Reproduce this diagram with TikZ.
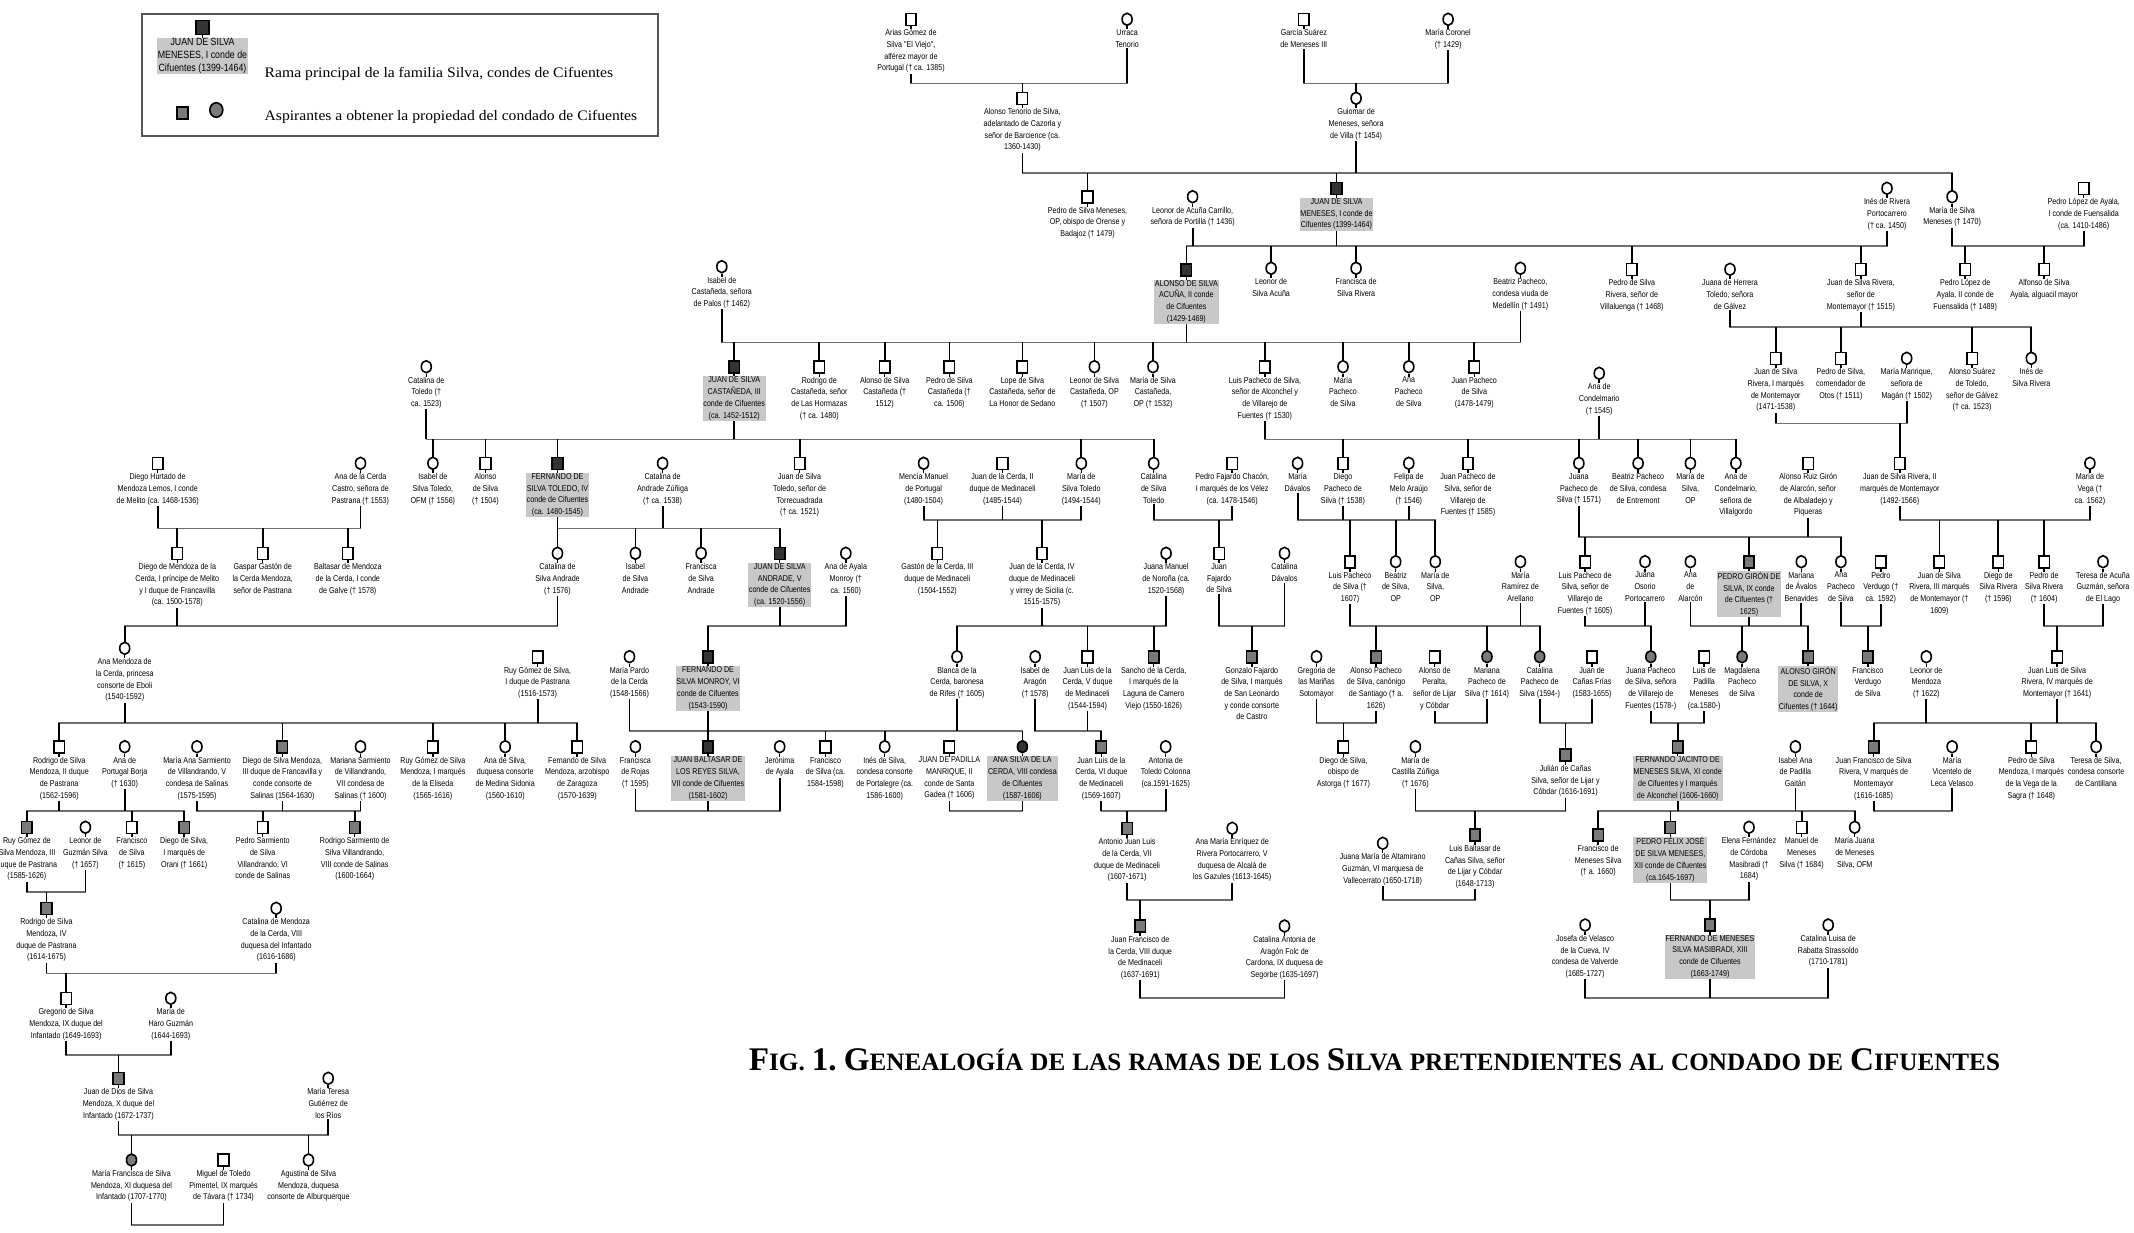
\documentclass[tikz,border=0pt]{standalone}
\usepackage{fontspec}
\setmainfont{Liberation Serif}
\newfontfamily\nar[FakeStretch=0.84]{Liberation Sans}
\usetikzlibrary{shapes.geometric}
\definecolor{cmain}{HTML}{333333}
\definecolor{casp}{HTML}{7A7A7A}
\definecolor{clab}{HTML}{C8C8C8}
\definecolor{chl}{HTML}{6E6E6E}
\definecolor{cbox}{HTML}{555555}
\tikzset{
 psq/.style={rectangle, draw=black, line width=1.6pt, fill=white, minimum width=10.5pt, minimum height=12pt, inner sep=0pt},
 pci/.style={ellipse, draw=black, line width=1.6pt, fill=white, minimum width=10pt, minimum height=12pt, inner sep=0pt},
 pmsq/.style={psq, fill=cmain},
 pasq/.style={psq, fill=casp},
 pmci/.style={pci, fill=cmain},
 paci/.style={pci, fill=casp},
 txt/.style={align=center, inner sep=0.8pt, font=\nar\fontsize{8.5}{11.7}\selectfont},
 mtxt/.style={txt, fill=clab},
 vl/.style={line width=1.8pt, black},
 hl/.style={line width=1.6pt, chl, line cap=rect},
}
\newcommand\psn[6]{%
 \node[#2] (#1) at (#4,#5) {};
 \draw[vl, line width=1.5pt] (#1.south) -- ++(0,3);
 \node[#3, anchor=north] (#1t) at ([yshift=-2.5pt]#1.south) {#6};
}
\newcommand\famly[5]{%
 \draw[hl] (#2 |- 0,#1) -- (#3 |- 0,#1);
 \foreach \q in {#4}{\draw[vl] (\q t.south) -- (\q t.south |- 0,#1);}
 \if\relax\detokenize{#5}\relax\else
  \foreach \q in {#5}{\draw[vl] (\q.north) -- (\q.north |- 0,#1);}
 \fi
}
\newcommand\TL[1]{{\fontsize{33}{36}\selectfont #1}}
\newcommand\TS[1]{{\fontsize{25}{30}\selectfont #1}}
\newcommand\TSP{\hspace{7pt}}
\begin{document}
\begin{tikzpicture}[x=1pt,y=-1pt]
\fill[white] (0,0) rectangle (2134,1232);
\useasboundingbox (0,0) rectangle (2134,1232);

% ---------- legend ----------
\draw[cbox, line width=1.2pt] (142,14) rectangle (658,136);
\node[psq, fill=cmain, minimum width=13pt, minimum height=14pt] (lgm) at (202.5,27.3) {};
\draw[vl, line width=1.5pt] (lgm.south) -- ++(0,3);
\node[txt, fill=clab, font=\nar\fontsize{10.5}{12.7}\selectfont, anchor=north] (lgmt) at ([yshift=-2.5pt]lgm.south) {JUAN DE SILVA\\MENESES, I conde de\\Cifuentes (1399-1464)};
\node[psq, fill=casp] (lga) at (182.5,112.7) {};
\node[pci, fill=casp, minimum width=13pt, minimum height=14.5pt] (lgb) at (216.3,110) {};
\node[anchor=base west, inner sep=0] (lgt1) at (264.5,77.3) {\resizebox{348.5pt}{\height}{\fontsize{14.5}{16}\selectfont Rama principal de la familia Silva, condes de Cifuentes}};
\node[anchor=base west, inner sep=0] (lgt2) at (264.5,120) {\resizebox{372.5pt}{\height}{\fontsize{14.5}{16}\selectfont Aspirantes a obtener la propiedad del condado de Cifuentes}};

% ---------- title ----------
\node[anchor=base west, inner sep=0] (title) at (748.7,1070) {\resizebox{1251pt}{\height}{\bfseries\TL{F}\TS{IG.}\TSP\TL{1.}\TSP\TL{G}\TS{ENEALOGÍA}\TSP\TS{DE}\TSP\TS{LAS}\TSP\TS{RAMAS}\TSP\TS{DE}\TSP\TS{LOS}\TSP\TL{S}\TS{ILVA}\TSP\TS{PRETENDIENTES}\TSP\TS{AL}\TSP\TS{CONDADO}\TSP\TS{DE}\TSP\TL{C}\TS{IFUENTES}}};

% ---------- persons ----------
\psn{arias}{psq}{txt}{911}{19.3}{Arias Gómez de\\Silva "El Viejo",\\alférez mayor de\\Portugal († ca. 1385)}
\psn{urraca}{pci}{txt}{1127.1}{19.3}{Urraca\\Tenorio}
\psn{garcia}{psq}{txt}{1303.8}{19.3}{García Suárez\\de Meneses III}
\psn{coronel}{pci}{txt}{1448.1}{19.3}{María Coronel\\(† 1429)}
\psn{atenorio}{psq}{txt}{1022.4}{98.3}{Alonso Tenorio de Silva,\\adelantado de Cazorla y\\señor de Barcience (ca.\\1360-1430)}
\psn{guiomar}{pci}{txt}{1356.1}{98.3}{Guiomar de\\Meneses, señora\\de Villa († 1454)}

\psn{pedrosm}{psq}{txt}{1087.5}{196.7}{Pedro de Silva Meneses,\\OP, obispo de Orense y\\Badajoz († 1479)}
\psn{leonoracuna}{pci}{txt}{1192.6}{196.7}{Leonor de Acuña Carrillo,\\señora de Portilla († 1436)}
\psn{juan1}{pmsq}{mtxt}{1336.5}{188.3}{JUAN DE SILVA\\MENESES, I conde de\\Cifuentes (1399-1464)}
\psn{inesrp}{pci}{txt}{1887}{188.3}{Inés de Rivera\\Portocarrero\\(† ca. 1450)}
\psn{msm}{pci}{txt}{1952.1}{196.7}{María de Silva\\Meneses († 1470)}
\psn{ply1}{psq}{txt}{2083.7}{188.3}{Pedro López de Ayala,\\I conde de Fuensalida\\(ca. 1410-1486)}

\psn{isabelcast}{pci}{txt}{721.8}{266.7}{Isabel de\\Castañeda, señora\\de Palos († 1462)}
\psn{alonso2}{pmsq}{mtxt}{1186.4}{270}{ALONSO DE SILVA\\ACUÑA, II conde\\de Cifuentes\\(1429-1469)}
\psn{leonorsa}{pci}{txt}{1271.1}{268.3}{Leonor de\\Silva Acuña}
\psn{franciscasr}{pci}{txt}{1356.1}{268.3}{Francisca de\\Silva Rivera}
\psn{beatrizp}{pci}{txt}{1520.4}{268.3}{Beatriz Pacheco,\\condesa viuda de\\Medellín († 1491)}
\psn{pedrosr1}{psq}{txt}{1631.9}{269.3}{Pedro de Silva\\Rivera, señor de\\Villaluenga († 1468)}
\psn{juanaherrera}{pci}{txt}{1730}{269.3}{Juana de Herrera\\Toledo, señora\\de Gálvez}
\psn{juansr}{psq}{txt}{1860.9}{269.3}{Juan de Silva Rivera,\\señor de\\Montemayor († 1515)}
\psn{ply2}{psq}{txt}{1965.2}{269.3}{Pedro López de\\Ayala, II conde de\\Fuensalida († 1489)}
\psn{alfonso}{psq}{txt}{2044.1}{269.3}{Alfonso de Silva\\Ayala, alguacil mayor}

\psn{catoledo}{pci}{txt}{426.3}{366.7}{Catalina de\\Toledo (†\\ca. 1523)}
\psn{juan3}{pmsq}{mtxt}{734.2}{366.7}{JUAN DE SILVA\\CASTAÑEDA, III\\conde de Cifuentes\\(ca. 1452-1512)}
\psn{rodrigoc}{psq}{txt}{819.3}{366.7}{Rodrigo de\\Castañeda, señor\\de Las Hormazas\\(† ca. 1480)}
\psn{alonsoc}{psq}{txt}{884.7}{366.7}{Alonso de Silva\\Castañeda (†\\1512)}
\psn{pedroc}{psq}{txt}{949.4}{366.7}{Pedro de Silva\\Castañeda (†\\ca. 1506)}
\psn{lope}{psq}{txt}{1022.4}{366.7}{Lope de Silva\\Castañeda, señor de\\La Honor de Sedano}
\psn{leonorsc}{pci}{txt}{1094.4}{366.7}{Leonor de Silva\\Castañeda, OP\\(† 1507)}
\psn{mariasc}{pci}{txt}{1153}{366.7}{María de Silva\\Castañeda,\\OP († 1532)}
\psn{luispacheco}{psq}{txt}{1264.9}{366.7}{Luis Pacheco de Silva,\\señor de Alconchel y\\de Villarejo de\\Fuentes († 1530)}
\psn{mariapacheco}{pci}{txt}{1343}{366.7}{María\\Pacheco\\de Silva}
\psn{anapacheco}{pci}{txt}{1408.8}{366.7}{Ana\\Pacheco\\de Silva}
\psn{juanpacheco}{psq}{txt}{1474.3}{366.7}{Juan Pacheco\\de Silva\\(1478-1479)}
\psn{anacond}{pci}{txt}{1599.2}{373.3}{Ana de\\Condelmario\\(† 1545)}
\psn{jsr1}{psq}{txt}{1775.8}{358.3}{Juan de Silva\\Rivera, I marqués\\de Montemayor\\(1471-1538)}
\psn{pedrocom}{psq}{txt}{1840.9}{358.3}{Pedro de Silva,\\comendador de\\Otos († 1511)}
\psn{mmanrique}{pci}{txt}{1906.7}{358.3}{María Manrique,\\señora de\\Magán († 1502)}
\psn{alonsosuarez}{psq}{txt}{1972.1}{358.3}{Alonso Suárez\\de Toledo,\\señor de Gálvez\\(† ca. 1523)}
\psn{inessr}{pci}{txt}{2031.3}{358.3}{Inés de\\Silva Rivera}

\psn{dhurtado}{psq}{txt}{157.7}{463.3}{Diego Hurtado de\\Mendoza Lemos, I conde\\de Melito (ca. 1468-1536)}
\psn{anacerda}{pci}{txt}{360.5}{463.3}{Ana de la Cerda\\Castro, señora de\\Pastrana († 1553)}
\psn{isabelst}{pci}{txt}{432.9}{463.3}{Isabel de\\Silva Toledo,\\OFM († 1556)}
\psn{alonsosilva}{psq}{txt}{485.5}{463.3}{Alonso\\de Silva\\(† 1504)}
\psn{fern4}{pmsq}{mtxt}{557.5}{463.3}{FERNANDO DE\\SILVA TOLEDO, IV\\conde de Cifuentes\\(ca. 1480-1545)}
\psn{catandradez}{pci}{txt}{662.6}{463.3}{Catalina de\\Andrade Zúñiga\\(† ca. 1538)}
\psn{juanst}{psq}{txt}{799.6}{463.3}{Juan de Silva\\Toledo, señor de\\Torrecuadrada\\(† ca. 1521)}
\psn{mencia}{pci}{txt}{923.6}{463.3}{Mencía Manuel\\de Portugal\\(1480-1504)}
\psn{jc2}{psq}{txt}{1002.5}{463.3}{Juan de la Cerda, II\\duque de Medinaceli\\(1485-1544)}
\psn{mariasilvatoledo}{pci}{txt}{1081.3}{463.3}{María de\\Silva Toledo\\(1494-1544)}
\psn{catsilvatoledo}{pci}{txt}{1153.7}{463.3}{Catalina\\de Silva\\Toledo}
\psn{pfajardo}{psq}{txt}{1232.2}{463.3}{Pedro Fajardo Chacón,\\I marqués de los Vélez\\(ca. 1478-1546)}
\psn{mdavalos}{pci}{txt}{1297.6}{463.3}{María\\Dávalos}
\psn{diegopacheco}{psq}{txt}{1343}{463.3}{Diego\\Pacheco de\\Silva († 1538)}
\psn{felipa}{pci}{txt}{1408.8}{463.3}{Felipa de\\Melo Araújo\\(† 1546)}
\psn{jpvillarejo}{psq}{txt}{1468}{463.3}{Juan Pacheco de\\Silva, señor de\\Villarejo de\\Fuentes († 1585)}
\psn{juanapacheco}{pci}{txt}{1578.9}{463.3}{Juana\\Pacheco de\\Silva († 1571)}
\psn{beatrizent}{pci}{txt}{1638.1}{463.3}{Beatriz Pacheco\\de Silva, condesa\\de Entremont}
\psn{mariaop}{pci}{txt}{1690.4}{463.3}{María de\\Silva,\\OP}
\psn{anacondvill}{pci}{txt}{1735.9}{463.3}{Ana de\\Condelmario,\\señora de\\Villalgordo}
\psn{aruizgiron}{psq}{txt}{1808.2}{463.3}{Alonso Ruiz Girón\\de Alarcón, señor\\de Albaladejo y\\Piqueras}
\psn{jsr2}{psq}{txt}{1899.8}{463.3}{Juan de Silva Rivera, II\\marqués de Montemayor\\(1492-1566)}
\psn{mvega}{pci}{txt}{2089.9}{463.3}{María de\\Vega (†\\ca. 1562)}

\psn{diegomend}{psq}{txt}{177.3}{553.3}{Diego de Mendoza de la\\Cerda, I príncipe de Melito\\y I duque de Francavilla\\(ca. 1500-1578)}
\psn{gaspar}{psq}{txt}{262.7}{553.3}{Gaspar Gastón de\\la Cerda Mendoza,\\señor de Pastrana}
\psn{baltasar}{psq}{txt}{347.8}{553.3}{Baltasar de Mendoza\\de la Cerda, I conde\\de Galve († 1578)}
\psn{catandrade}{pci}{txt}{557.5}{553.3}{Catalina de\\Silva Andrade\\(† 1576)}
\psn{isabelandrade}{pci}{txt}{635.4}{553.3}{Isabel\\de Silva\\Andrade}
\psn{franciscaandrade}{pci}{txt}{701.1}{553.3}{Francisca\\de Silva\\Andrade}
\psn{juan5}{pmsq}{mtxt}{779.7}{553.3}{JUAN DE SILVA\\ANDRADE, V\\conde de Cifuentes\\(ca. 1520-1556)}
\psn{anaayala}{pci}{txt}{845.8}{553.3}{Ana de Ayala\\Monroy (†\\ca. 1560)}
\psn{gaston}{psq}{txt}{937.4}{553.3}{Gastón de la Cerda, III\\duque de Medinaceli\\(1504-1552)}
\psn{jc4}{psq}{txt}{1042}{553.3}{Juan de la Cerda, IV\\duque de Medinaceli\\y virrey de Sicilia (c.\\1515-1575)}
\psn{juananorona}{pci}{txt}{1166.1}{553.3}{Juana Manuel\\de Noroña (ca.\\1520-1568)}
\psn{jfajardo}{psq}{txt}{1219.1}{553.3}{Juan\\Fajardo\\de Silva}
\psn{catdavalos}{pci}{txt}{1284.5}{553.3}{Catalina\\Dávalos}

\psn{luisp1607}{psq}{txt}{1350}{561.7}{Luis Pacheco\\de Silva (†\\1607)}
\psn{beatrizop}{pci}{txt}{1395.7}{561.7}{Beatriz\\de Silva,\\OP}
\psn{mariasop2}{pci}{txt}{1435.3}{561.7}{María de\\Silva,\\OP}
\psn{mramirez}{pci}{txt}{1520.4}{561.7}{María\\Ramírez de\\Arellano}
\psn{luispv}{psq}{txt}{1585.1}{561.7}{Luis Pacheco de\\Silva, señor de\\Villarejo de\\Fuentes († 1605)}
\psn{juanaosorio}{pci}{txt}{1645}{561.7}{Juana\\Osorio\\Portocarrero}
\psn{anaalarcon}{pci}{txt}{1690.4}{561.7}{Ana\\de\\Alarcón}
\psn{pedrogiron}{pasq}{mtxt}{1749}{561.7}{PEDRO GIRÓN DE\\SILVA, IX conde\\de Cifuentes (†\\1625)}
\psn{marianaavalos}{pci}{txt}{1801.3}{561.7}{Mariana\\de Ávalos\\Benavides}
\psn{anapachsilva}{pci}{txt}{1840.9}{561.7}{Ana\\Pacheco\\de Silva}
\psn{pverdugo}{psq}{txt}{1880.8}{561.7}{Pedro\\Verdugo (†\\ca. 1592)}
\psn{jsr3}{psq}{txt}{1939.4}{561.7}{Juan de Silva\\Rivera, III marqués\\de Montemayor (†\\1609)}
\psn{diegosr}{psq}{txt}{1998.3}{561.7}{Diego de\\Silva Rivera\\(† 1596)}
\psn{pedrosr}{psq}{txt}{2044.1}{561.7}{Pedro de\\Silva Rivera\\(† 1604)}
\psn{teresaacuna}{pci}{txt}{2103}{561.7}{Teresa de Acuña\\Guzmán, señora\\de El Lago}

\psn{anamendoza}{pci}{txt}{124.7}{648.3}{Ana Mendoza de\\la Cerda, princesa\\consorte de Eboli\\(1540-1592)}
\psn{ruygomez}{psq}{txt}{537.6}{656.7}{Ruy Gómez de Silva,\\I duque de Pastrana\\(1516-1573)}
\psn{mpardo}{pci}{txt}{629.5}{656.7}{María Pardo\\de la Cerda\\(1548-1566)}
\psn{fern6}{pmsq}{mtxt}{708}{656.7}{FERNANDO DE\\SILVA MONROY, VI\\conde de Cifuentes\\(1543-1590)}
\psn{blanca}{pci}{txt}{957}{656.7}{Blanca de la\\Cerda, baronesa\\de Rifes († 1605)}
\psn{isabelaragon}{pci}{txt}{1035.2}{656.7}{Isabel de\\Aragón\\(† 1578)}
\psn{jl5}{psq}{txt}{1087.5}{656.7}{Juan Luis de la\\Cerda, V duque\\de Medinaceli\\(1544-1594)}
\psn{sancho}{pasq}{txt}{1153.7}{656.7}{Sancho de la Cerda,\\I marqués de la\\Laguna de Camero\\Viejo (1550-1626)}
\psn{gonzalo}{pasq}{txt}{1251.8}{656.7}{Gonzalo Fajardo\\de Silva, I marqués\\de San Leonardo\\y conde consorte\\de Castro}
\psn{gregoria}{pci}{txt}{1316.5}{656.7}{Gregoria de\\las Mariñas\\Sotomayor}
\psn{alonsocan}{pasq}{txt}{1376.1}{656.7}{Alonso Pacheco\\de Silva, canónigo\\de Santiago († a.\\1626)}
\psn{alonsoperalta}{psq}{txt}{1434.7}{656.7}{Alonso de\\Peralta,\\señor de Lijar\\y Cóbdar}
\psn{marianapach}{paci}{txt}{1487}{656.7}{Mariana\\Pacheco de\\Silva († 1614)}
\psn{catalinapach}{paci}{txt}{1539.7}{656.7}{Catalina\\Pacheco de\\Silva (1594-)}
\psn{juancanas}{psq}{txt}{1592}{656.7}{Juan de\\Cañas Frías\\(1583-1655)}
\psn{jpachecoaf}{paci}{txt}{1650.8}{656.7}{Juana Pacheco\\de Silva, señora\\de Villarejo de\\Fuentes (1578-)}
\psn{luispadilla}{psq}{txt}{1704.2}{656.7}{Luis de\\Padilla\\Meneses\\(ca.1580-)}
\psn{magdalena}{paci}{txt}{1742.1}{656.7}{Magdalena\\Pacheco\\de Silva}
\psn{alonsogiron}{pasq}{mtxt}{1808.2}{656.7}{ALONSO GIRÓN\\DE SILVA, X\\conde de\\Cifuentes († 1644)}
\psn{fverdugo}{pasq}{txt}{1867.8}{656.7}{Francisco\\Verdugo\\de Silva}
\psn{leonormend}{pci}{txt}{1926.3}{656.7}{Leonor de\\Mendoza\\(† 1622)}
\psn{jl4m}{psq}{txt}{2057.2}{656.7}{Juan Luis de Silva\\Rivera, IV marqués de\\Montemayor († 1641)}

\psn{rodrigo2}{psq}{txt}{59.2}{746.7}{Rodrigo de Silva\\Mendoza, II duque\\de Pastrana\\(1562-1596)}
\psn{anaportugal}{pci}{txt}{124.7}{746.7}{Ana de\\Portugal Borja\\(† 1630)}
\psn{mariaana}{pci}{txt}{197}{746.7}{María Ana Sarmiento\\de Villandrando, V\\condesa de Salinas\\(1575-1595)}
\psn{diegofranc}{pasq}{txt}{282.4}{746.7}{Diego de Silva Mendoza,\\III duque de Francavilla y\\conde consorte de\\Salinas (1564-1630)}
\psn{marianasarm}{pci}{txt}{360.5}{746.7}{Mariana Sarmiento\\de Villandrando,\\VII condesa de\\Salinas († 1600)}
\psn{ruyeliseda}{psq}{txt}{432.9}{746.7}{Ruy Gómez de Silva\\Mendoza, I marqués\\de la Eliseda\\(1565-1616)}
\psn{anamedina}{pci}{txt}{505.2}{746.7}{Ana de Silva,\\duquesa consorte\\de Medina Sidonia\\(1560-1610)}
\psn{fernarz}{psq}{txt}{577.2}{746.7}{Fernando de Silva\\Mendoza, arzobispo\\de Zaragoza\\(1570-1639)}
\psn{frojas}{pci}{txt}{635.4}{746.7}{Francisca\\de Rojas\\(† 1595)}
\psn{jbaltasar}{pmsq}{mtxt}{708}{746.7}{JUAN BALTASAR DE\\LOS REYES SILVA,\\VII conde de Cifuentes\\(1581-1602)}
\psn{jeronima}{pci}{txt}{779.7}{746.7}{Jerónima\\de Ayala}
\psn{franciscosilva}{psq}{txt}{825.5}{746.7}{Francisco\\de Silva (ca.\\1584-1598)}
\psn{inessilva}{pci}{txt}{884.7}{746.7}{Inés de Silva,\\condesa consorte\\de Portalegre (ca.\\1586-1600)}
\psn{jpadilla}{psq}{txt}{949.4}{746.7}{JUAN DE PADILLA\\MANRIQUE, II\\conde de Santa\\Gadea († 1606)}
\psn{ana8}{pmci}{mtxt}{1022.4}{746.7}{ANA SILVA DE LA\\CERDA, VIII condesa\\de Cifuentes\\(1587-1606)}
\psn{jl6}{pasq}{txt}{1101.3}{746.7}{Juan Luis de la\\Cerda, VI duque\\de Medinaceli\\(1569-1607)}
\psn{antonia}{pci}{txt}{1165.7}{746.7}{Antonia de\\Toledo Colonna\\(ca.1591-1625)}
\psn{diegoastorga}{psq}{txt}{1343.4}{746.7}{Diego de Silva,\\obispo de\\Astorga († 1677)}
\psn{mcastilla}{pci}{txt}{1415.4}{746.7}{María de\\Castilla Zúñiga\\(† 1676)}
\psn{julian}{pasq}{txt}{1565.5}{755}{Julián de Cañas\\Silva, señor de Lijar y\\Cóbdar (1616-1691)}
\psn{fjacinto}{pasq}{mtxt}{1677.7}{746.7}{FERNANDO JACINTO DE\\MENESES SILVA, XI conde\\de Cifuentes y I marqués\\de Alconchel (1606-1660)}
\psn{isabelana}{pci}{txt}{1795.4}{746.7}{Isabel Ana\\de Padilla\\Gaitán}
\psn{jfv}{pasq}{txt}{1873.6}{746.7}{Juan Francisco de Silva\\Rivera, V marqués de\\Montemayor\\(1616-1685)}
\psn{mvicentelo}{pci}{txt}{1952.1}{746.7}{María\\Vicentelo de\\Leca Velasco}
\psn{pedrovega}{psq}{txt}{2031.3}{746.7}{Pedro de Silva\\Mendoza, I marqués\\de la Vega de la\\Sagra († 1648)}
\psn{teresasilva}{pci}{txt}{2096.1}{746.7}{Teresa de Silva,\\condesa consorte\\de Cantillana}

\psn{ruy3}{pasq}{txt}{26.9}{827.3}{Ruy Gómez de\\Silva Mendoza, III\\duque de Pastrana\\(1585-1626)}
\psn{leonorguz}{pci}{txt}{85.4}{827.3}{Leonor de\\Guzmán Silva\\(† 1657)}
\psn{franc1615}{psq}{txt}{131.9}{827.3}{Francisco\\de Silva\\(† 1615)}
\psn{diegoorani}{pasq}{txt}{184.2}{827.3}{Diego de Silva,\\I marqués de\\Orani († 1661)}
\psn{pedrosarm}{psq}{txt}{262.7}{827.3}{Pedro Sarmiento\\de Silva\\Villandrando, VI\\conde de Salinas}
\psn{rodrigosarm}{pasq}{txt}{354.7}{827.3}{Rodrigo Sarmiento de\\Silva Villandrando,\\VIII conde de Salinas\\(1600-1664)}
\psn{ajl7}{pasq}{txt}{1127.1}{828.3}{Antonio Juan Luis\\de la Cerda, VII\\duque de Medinaceli\\(1607-1671)}
\psn{anamaria}{pci}{txt}{1232.2}{828.3}{Ana María Enríquez de\\Rivera Portocarrero, V\\duquesa de Alcalá de\\los Gazules (1613-1645)}
\psn{jmaltamirano}{pci}{txt}{1382.7}{843.3}{Juana María de Altamirano\\Guzmán, VI marquesa de\\Vallecerrato (1650-1718)}
\psn{luisbalt}{pasq}{txt}{1475}{835}{Luis Baltasar de\\Cañas Silva, señor\\de Lijar y Cóbdar\\(1648-1713)}
\psn{franciscomen}{pasq}{txt}{1598.1}{835}{Francisco de\\Meneses Silva\\(† a. 1660)}
\psn{pedrofelix}{pasq}{mtxt}{1670.4}{827.3}{PEDRO FÉLIX JOSÉ\\DE SILVA MENESES,\\XII conde de Cifuentes\\(ca.1645-1697)}
\psn{elena}{pci}{txt}{1749}{827.3}{Elena Fernández\\de Córdoba\\Masibradi (†\\1684)}
\psn{manuel}{psq}{txt}{1801.6}{827.3}{Manuel de\\Meneses\\Silva († 1684)}
\psn{mjuana}{pci}{txt}{1854.7}{827.3}{María Juana\\de Meneses\\Silva, OFM}

\psn{rodrigo4}{pasq}{txt}{46.5}{908.3}{Rodrigo de Silva\\Mendoza, IV\\duque de Pastrana\\(1614-1675)}
\psn{catmendoza}{pci}{txt}{276.2}{908.3}{Catalina de Mendoza\\de la Cerda, VIII\\duquesa del Infantado\\(1616-1686)}
\psn{jf8}{pasq}{txt}{1140.2}{926}{Juan Francisco de\\la Cerda, VIII duque\\de Medinaceli\\(1637-1691)}
\psn{catantonia}{pci}{txt}{1284.5}{926}{Catalina Antonia de\\Aragón Folc de\\Cardona, IX duquesa de\\Segorbe (1635-1697)}
\psn{josefa}{pci}{txt}{1585.1}{925}{Josefa de Velasco\\de la Cueva, IV\\condesa de Valverde\\(1685-1727)}
\psn{fern13}{pasq}{mtxt}{1710}{925}{FERNANDO DE MENESES\\SILVA MASIBRADI, XIII\\conde de Cifuentes\\(1663-1749)}
\psn{catluisa}{pci}{txt}{1828.2}{925}{Catalina Luisa de\\Rabatta Strassoldo\\(1710-1781)}

\psn{gregorio}{psq}{txt}{66.1}{998.3}{Gregorio de Silva\\Mendoza, IX duque del\\Infantado (1649-1693)}
\psn{mariaharo}{pci}{txt}{170.8}{998.3}{María de\\Haro Guzmán\\(1644-1693)}
\psn{juandios}{pasq}{txt}{118.5}{1078.3}{Juan de Dios de Silva\\Mendoza, X duque del\\Infantado (1672-1737)}
\psn{mteresa}{pci}{txt}{328.2}{1078.3}{María Teresa\\Gutiérrez de\\los Ríos}
\psn{mfrancisca}{paci}{txt}{131.5}{1160}{María Francisca de Silva\\Mendoza, XI duquesa del\\Infantado (1707-1770)}
\psn{migueltol}{psq}{txt}{223.5}{1160}{Miguel de Toledo\\Pimentel, IX marqués\\de Távara († 1734)}
\psn{agustina}{pci}{txt}{308.5}{1160}{Agustina de Silva\\Mendoza, duquesa\\consorte de Alburquerque}

% ---------- families ----------
\famly{83.3}{arias}{urraca}{arias,urraca}{atenorio}
\famly{83.3}{garcia}{coronel}{garcia,coronel}{guiomar}
\famly{172.7}{atenorio}{msm}{atenorio,guiomar}{pedrosm,juan1,msm}
\famly{245.7}{alonso2}{inesrp}{leonoracuna,juan1,inesrp}{alonso2,leonorsa,franciscasr,pedrosr1,juansr}
\famly{245.7}{msm}{ply1}{msm,ply1}{ply2,alfonso}
\famly{342.3}{isabelcast}{beatrizp}{isabelcast,alonso2,beatrizp}{juan3,rodrigoc,alonsoc,pedroc,lope,leonorsc,mariasc,luispacheco,mariapacheco,anapacheco,juanpacheco}
\famly{326.7}{juanaherrera}{inessr}{juanaherrera,juansr}{jsr1,pedrocom,alonsosuarez,inessr}
\famly{423.3}{jsr1}{mmanrique}{jsr1,mmanrique}{jsr2}
\famly{439.3}{catoledo}{catsilvatoledo}{catoledo,juan3}{isabelst,alonsosilva,fern4,juanst,mariasilvatoledo,catsilvatoledo}
\famly{439.3}{luispacheco}{anacondvill}{luispacheco,anacond}{diegopacheco,jpvillarejo,juanapacheco,beatrizent,mariaop,anacondvill}
\famly{528.3}{dhurtado}{anacerda}{dhurtado,anacerda}{diegomend,gaspar,baltasar}
\famly{528.3}{fern4}{juan5}{fern4,catandradez}{catandrade,isabelandrade,franciscaandrade,juan5}
\famly{520}{mencia}{mariasilvatoledo}{mencia,jc2,mariasilvatoledo}{gaston,jc4}
\famly{520}{catsilvatoledo}{pfajardo}{catsilvatoledo,pfajardo}{jfajardo}
\famly{520}{mdavalos}{mariasop2}{mdavalos,diegopacheco,felipa}{luisp1607,beatrizop,mariasop2}
\famly{536.7}{juanapacheco}{anapachsilva}{juanapacheco,aruizgiron}{luispv,pedrogiron,anapachsilva}
\famly{520}{jsr2}{mvega}{jsr2,mvega}{jsr3,diegosr,pedrosr}
\famly{626}{anamendoza}{catandrade}{diegomend,catandrade}{anamendoza}
\famly{626}{fern6}{anaayala}{juan5,anaayala}{fern6}
\famly{626}{blanca}{juananorona}{jc4,juananorona}{blanca,jl5,sancho}
\famly{626}{jfajardo}{catdavalos}{jfajardo,catdavalos}{gonzalo}
\famly{626}{luisp1607}{catalinapach}{luisp1607,mramirez}{alonsocan,marianapach,catalinapach}
\famly{626}{luispv}{jpachecoaf}{luispv,juanaosorio}{jpachecoaf}
\famly{626}{anaalarcon}{alonsogiron}{anaalarcon,pedrogiron,marianaavalos}{magdalena,alonsogiron}
\famly{626}{anapachsilva}{pverdugo}{anapachsilva,pverdugo}{fverdugo}
\famly{626}{pedrosr}{teresaacuna}{pedrosr,teresaacuna}{jl4m}
\famly{722.7}{rodrigo2}{fernarz}{anamendoza,ruygomez}{rodrigo2,diegofranc,ruyeliseda,anamedina,fernarz}
\famly{730.7}{mpardo}{ana8}{mpardo,fern6,blanca}{jbaltasar,franciscosilva,inessilva,ana8}
\famly{730.7}{isabelaragon}{jl6}{isabelaragon,jl5}{jl6}
\famly{722.7}{gregoria}{alonsocan}{gregoria,alonsocan}{diegoastorga}
\famly{722.7}{alonsoperalta}{marianapach}{alonsoperalta,marianapach}{}
\famly{722.7}{catalinapach}{juancanas}{catalinapach,juancanas}{julian}
\famly{722.7}{jpachecoaf}{luispadilla}{jpachecoaf,luispadilla}{fjacinto}
\famly{722.7}{jfv}{teresasilva}{leonormend,jl4m}{jfv,pedrovega,teresasilva}
\famly{811}{ruy3}{diegoorani}{rodrigo2,anaportugal}{ruy3,franc1615,diegoorani}
\famly{811}{mariaana}{marianasarm}{mariaana,diegofranc,marianasarm}{pedrosarm,rodrigosarm}
\famly{811}{frojas}{jeronima}{frojas,jbaltasar,jeronima}{}
\famly{811}{jpadilla}{ana8}{jpadilla,ana8}{}
\famly{811}{jl6}{antonia}{jl6,antonia}{ajl7}
\famly{811}{mcastilla}{julian}{mcastilla,julian}{luisbalt}
\famly{811}{franciscomen}{mjuana}{fjacinto,isabelana}{franciscomen,pedrofelix,manuel,mjuana}
\famly{811}{jfv}{mvicentelo}{jfv,mvicentelo}{}
\famly{891.7}{ruy3}{leonorguz}{ruy3,leonorguz}{rodrigo4}
\famly{900}{ajl7}{anamaria}{ajl7,anamaria}{jf8}
\famly{900}{jmaltamirano}{luisbalt}{jmaltamirano,luisbalt}{}
\famly{900}{pedrofelix}{elena}{pedrofelix,elena}{fern13}
\famly{973.3}{rodrigo4}{catmendoza}{rodrigo4,catmendoza}{gregorio}
\famly{997.7}{jf8}{catantonia}{jf8,catantonia}{}
\famly{997.7}{josefa}{catluisa}{josefa,fern13,catluisa}{}
\famly{1055}{gregorio}{mariaharo}{gregorio,mariaharo}{juandios}
\famly{1135}{juandios}{mteresa}{juandios,mteresa}{mfrancisca,agustina}
\famly{1225}{mfrancisca}{migueltol}{mfrancisca,migueltol}{}
\end{tikzpicture}
\end{document}
